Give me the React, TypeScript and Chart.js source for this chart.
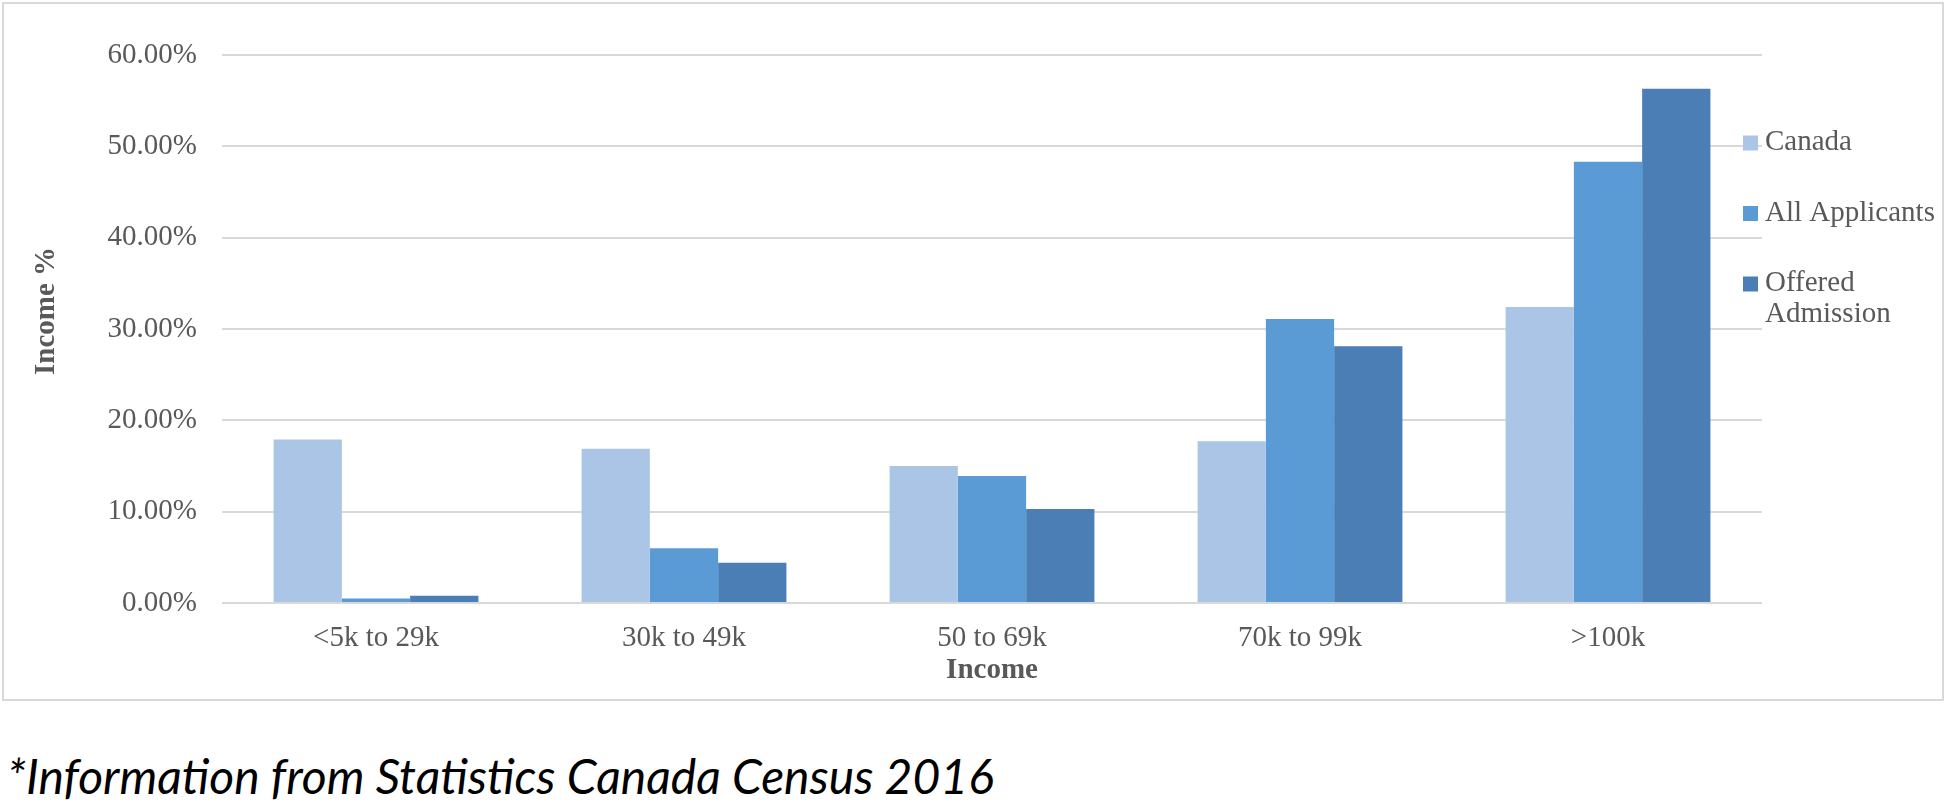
import React, { useEffect, useRef } from "react";
import { Chart, registerables } from "chart.js";

Chart.register(...registerables);

const categories = ["<5k to 29k", "30k to 49k", "50 to 69k", "70k to 99k", ">100k"];
const canadaValues = [17.9, 16.9, 15.0, 17.7, 32.4];
const allApplicantsValues = [0.5, 6.0, 13.9, 31.1, 48.3];
const offeredAdmissionValues = [0.8, 4.4, 10.3, 28.1, 56.3];
const seriesNames = ["Canada", "All Applicants", "Offered Admission"];
const legendLines = [["Canada"], ["All Applicants"], ["Offered", "Admission"]];
const seriesColors = ["#abc5e6", "#5b9bd5", "#4a7eb4"];
const yMin = 0;
const yMax = 60;
const yStep = 10;
const xAxisTitle = "Income";
const yAxisTitle = "Income %";
const footnote = "*Information from Statistics Canada Census 2016";

const TEXT_COLOR = "#595959";
const SERIF = '"Liberation Serif", "Times New Roman", serif';

const sideLegend = {
  id: "sideLegend",
  afterDraw(chart: any) {
    const { ctx, chartArea } = chart;
    const x = chartArea.right - 19;
    const startY = chartArea.top + 87.5;
    const itemGap = 70.5;
    const lineH = 31;
    ctx.save();
    ctx.font = `29px ${SERIF}`;
    ctx.textBaseline = "middle";
    ctx.textAlign = "left";
    chart.data.datasets.forEach((ds: any, i: number) => {
      const y = startY + i * itemGap;
      ctx.fillStyle = ds.backgroundColor;
      ctx.fillRect(x, y - 7, 15, 15);
      ctx.fillStyle = TEXT_COLOR;
      legendLines[i].forEach((line, j) => ctx.fillText(line, x + 22, y + j * lineH));
    });
    ctx.restore();
  },
};

const yTitlePlugin = {
  id: "yTitle",
  afterDraw(chart: any) {
    const { ctx, chartArea } = chart;
    ctx.save();
    ctx.translate(47, chartArea.top + 256);
    ctx.rotate(-Math.PI / 2);
    ctx.font = `bold 29px ${SERIF}`;
    ctx.fillStyle = TEXT_COLOR;
    ctx.textAlign = "center";
    ctx.textBaseline = "middle";
    ctx.fillText(yAxisTitle, 0, 0);
    ctx.restore();
  },
};

export default function App() {
  const canvasRef = useRef<HTMLCanvasElement | null>(null);

  useEffect(() => {
    if (!canvasRef.current) return;
    const values = [canadaValues, allApplicantsValues, offeredAdmissionValues];
    const chart = new Chart(canvasRef.current, {
      type: "bar",
      data: {
        labels: categories,
        datasets: seriesNames.map((name, i) => ({
          label: name,
          data: values[i],
          backgroundColor: seriesColors[i],
          borderWidth: 0,
          categoryPercentage: 0.665,
          barPercentage: 1.0,
        })),
      },
      options: {
        responsive: false,
        animation: false,
        devicePixelRatio: 1,
        layout: { padding: { left: 0, top: 55, right: 184, bottom: 0 } },
        plugins: {
          legend: { display: false },
          tooltip: { enabled: false },
          title: { display: false },
        },
        scales: {
          x: {
            grid: { display: false, drawTicks: false },
            border: { display: false },
            ticks: {
              color: TEXT_COLOR,
              font: { family: SERIF, size: 29 },
              padding: 18,
              maxRotation: 0,
              autoSkip: false,
            },
            title: {
              display: true,
              text: xAxisTitle,
              color: TEXT_COLOR,
              font: { family: SERIF, size: 29, weight: "bold" },
              padding: { top: 0, bottom: 17 },
            },
            afterFit: (scale: any) => {
              scale.height = 102;
            },
          },
          y: {
            min: yMin,
            max: yMax,
            grid: { color: "#d9d9d9", lineWidth: 2, drawTicks: false },
            border: { display: false },
            ticks: {
              stepSize: yStep,
              color: TEXT_COLOR,
              font: { family: SERIF, size: 29 },
              padding: 25,
              callback: (v: any) => Number(v).toFixed(2) + "%",
            },
            title: { display: false, text: yAxisTitle },
            afterFit: (scale: any) => {
              scale.width = 222;
            },
          },
        },
      },
      plugins: [sideLegend, yTitlePlugin],
    });
    return () => chart.destroy();
  }, []);

  return (
    <div
      style={{
        position: "absolute",
        left: 0,
        top: 0,
        width: 1946,
        height: 808,
        background: "#ffffff",
        overflow: "hidden",
      }}
    >
      <canvas
        ref={canvasRef}
        width={1946}
        height={705}
        style={{ position: "absolute", left: 0, top: 0, width: 1946, height: 705 }}
      />
      <div
        style={{
          position: "absolute",
          left: 2,
          top: 2,
          width: 1942,
          height: 699,
          boxSizing: "border-box",
          border: "2px solid #d9d9d9",
          pointerEvents: "none",
        }}
      />
      <div
        style={{
          position: "absolute",
          left: 7,
          top: 752,
          fontFamily: "Lato, 'Open Sans', sans-serif",
          fontStyle: "italic",
          fontSize: 48,
          lineHeight: 1,
          color: "#000000",
          whiteSpace: "nowrap",
        }}
      >
        {footnote}
      </div>
    </div>
  );
}
